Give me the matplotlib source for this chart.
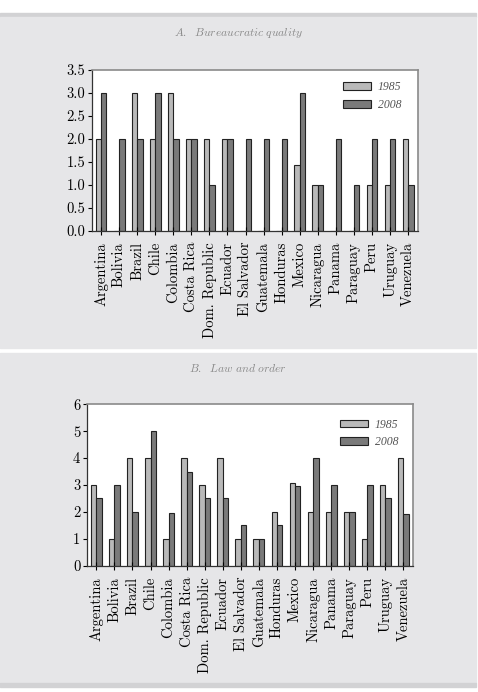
import numpy as np
import matplotlib
matplotlib.use("Agg")
import matplotlib.pyplot as plt
from matplotlib.patches import Rectangle

plt.rcParams['font.family'] = 'cmr10'
plt.rcParams['mathtext.fontset'] = 'cm'
plt.rcParams['axes.formatter.use_mathtext'] = True

countries = ["Argentina", "Bolivia", "Brazil", "Chile", "Colombia", "Costa Rica",
             "Dom. Republic", "Ecuador", "El Salvador", "Guatemala", "Honduras",
             "Mexico", "Nicaragua", "Panama", "Paraguay", "Peru", "Uruguay", "Venezuela"]

bureau_1985 = [2, 0, 3, 2, 3, 2, 2, 2, 0, 0, 0, 1.42, 1, 0, 0, 1, 1, 2]
bureau_2008 = [3, 2, 2, 3, 2, 2, 1, 2, 2, 2, 2, 3, 1, 2, 1, 2, 2, 1]

law_1985 = [3, 1, 4, 4, 1, 4, 3, 4, 1, 1, 2, 3.08, 2, 2, 2, 1, 3, 4]
law_2008 = [2.5, 3, 2, 5, 1.96, 3.5, 2.5, 2.5, 1.5, 1, 1.5, 2.96, 4, 3, 2, 3, 2.5, 1.92]

light = '#b9b9b9'
dark = '#7a7a7a'
panel_bg = '#e6e6e8'

fig = plt.figure(figsize=(4.78, 6.92), dpi=100, facecolor='white')
H = 692.0
W = 478.0

# grey panels and rules (behind the axes)
def fig_rect(x0, y0, x1, y1, color):
    fig.patches.append(Rectangle((x0 / W, 1 - y1 / H), (x1 - x0) / W, (y1 - y0) / H,
                                 transform=fig.transFigure, color=color, zorder=-5))

fig_rect(0, 13, 476, 17, '#d2d2d4')
fig_rect(0, 17, 476, 348, panel_bg)
fig_rect(0, 353, 476, 683, panel_bg)
fig_rect(0, 683, 476, 687, '#d2d2d4')


def draw_panel(rect, title, title_y, v85, v08, ylim, yticks, fmt, leg_anchor):
    ax = fig.add_axes(rect)
    x = np.arange(len(countries))
    w = 0.3
    ax.bar(x - w / 2, v85, w, color=light, edgecolor='#222222', linewidth=0.8, label='1985')
    ax.bar(x + w / 2, v08, w, color=dark, edgecolor='#222222', linewidth=0.8, label='2008')
    ax.set_xlim(-0.5, len(countries) - 0.47)
    ax.set_ylim(*ylim)
    ax.set_yticks(yticks)
    ax.set_yticklabels([fmt % t for t in yticks], fontsize=10.5)
    ax.set_xticks(x)
    ax.set_xticklabels(countries, rotation=90, fontsize=10.5)
    ax.tick_params(axis='x', direction='inout', length=6, width=0.8, pad=5)
    ax.tick_params(axis='y', direction='out', length=3, width=0.8, pad=2)
    for s in ['top', 'right']:
        ax.spines[s].set_color('#8a8a8a')
        ax.spines[s].set_linewidth(1.2)
    for s in ['left', 'bottom']:
        ax.spines[s].set_color('#333333')
        ax.spines[s].set_linewidth(0.9)
    leg = ax.legend(loc='upper left', bbox_to_anchor=leg_anchor, frameon=False,
                    prop={'family': 'Liberation Serif', 'style': 'italic', 'size': 8.5},
                    handlelength=2.4, handleheight=0.65,
                    labelspacing=0.45, handletextpad=0.6, borderaxespad=0)
    for t in leg.get_texts():
        t.set_color('#555555')
    fig.text(0.498, title_y, title, ha='center', va='center', fontsize=8.3, color='#8a8a8a')
    return ax


draw_panel([92 / W, 1 - 230.7 / H, 325.7 / W, 161.2 / H],
           r'$\mathit{A.\ \ Bureaucratic\ quality}$', 1 - 33 / H,
           bureau_1985, bureau_2008, (0, 3.5),
           [0, 0.5, 1.0, 1.5, 2.0, 2.5, 3.0, 3.5], '%.1f', (0.755, 0.955))

draw_panel([87.3 / W, 1 - 565.7 / H, 325.7 / W, 161.4 / H],
           r'$\mathit{B.\ \ Law\ and\ order}$', 1 - 368 / H,
           law_1985, law_2008, (0, 6),
           [0, 1, 2, 3, 4, 5, 6], '%d', (0.76, 0.94))

fig.savefig('out.png', dpi=100, facecolor='white')
